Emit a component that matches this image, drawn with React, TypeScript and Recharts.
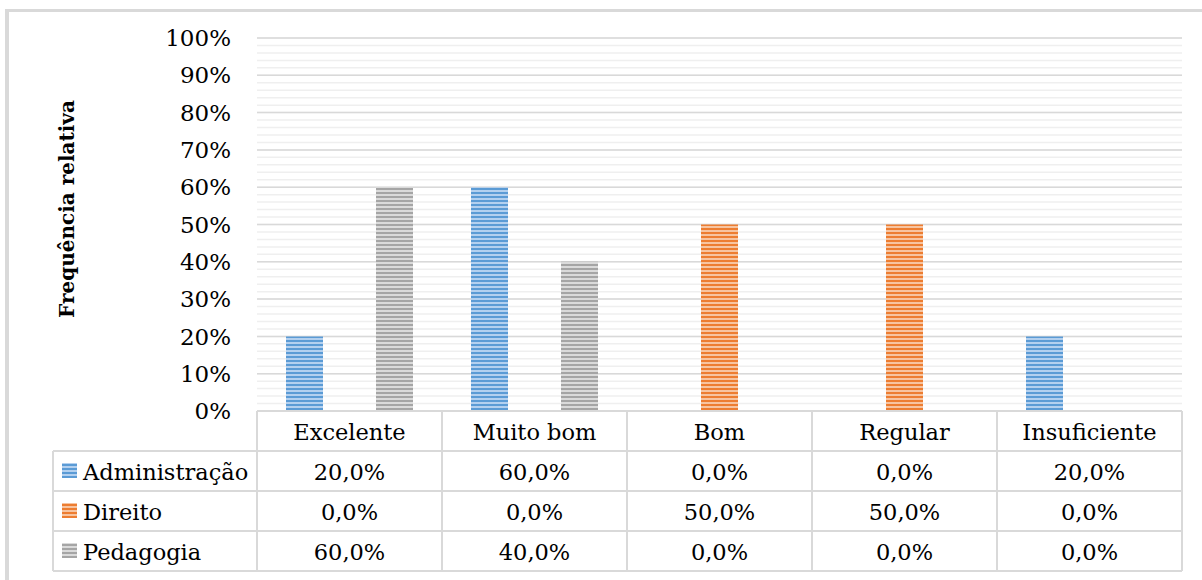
import React from 'react';
import { BarChart, Bar, XAxis, YAxis, CartesianGrid } from 'recharts';

const categories = ['Excelente', 'Muito bom', 'Bom', 'Regular', 'Insuficiente'];
const seriesNames = ['Administração', 'Direito', 'Pedagogia'];
const administracao = [0.2, 0.6, 0, 0, 0.2];
const direito = [0, 0, 0.5, 0.5, 0];
const pedagogia = [0.6, 0.4, 0, 0, 0];
const majorTicks = [0, 0.1, 0.2, 0.3, 0.4, 0.5, 0.6, 0.7, 0.8, 0.9, 1];
const minorTicks = [0, 0.02, 0.04, 0.06, 0.08, 0.1, 0.12, 0.14, 0.16, 0.18, 0.2, 0.22, 0.24, 0.26, 0.28, 0.3, 0.32, 0.34, 0.36, 0.38, 0.4, 0.42, 0.44, 0.46, 0.48, 0.5, 0.52, 0.54, 0.56, 0.58, 0.6, 0.62, 0.64, 0.66, 0.68, 0.7, 0.72, 0.74, 0.76, 0.78, 0.8, 0.82, 0.84, 0.86, 0.88, 0.9, 0.92, 0.94, 0.96, 0.98, 1];
const yTitle = 'Frequência relativa';

const seriesKeys = ['adm', 'dir', 'ped'];
const seriesValues = [administracao, direito, pedagogia];
const patternIds = ['stripeBlue', 'stripeOrange', 'stripeGray'];
const stripeColors = [
  ['#5b9bd5', '#b3d0ef'],
  ['#ed7d31', '#f7c4a0'],
  ['#a5a5a5', '#dadada'],
];

const data = categories.map((c, i) => ({
  name: c,
  adm: administracao[i],
  dir: direito[i],
  ped: pedagogia[i],
}));

const FONT = '"DejaVu Serif", serif';
const FS = 22.5;
const PLOT_LEFT = 257;
const PLOT_RIGHT = 1182;
const BAND = (PLOT_RIGHT - PLOT_LEFT) / categories.length;
const ROW_H = 40;
const LEG_LEFT = 53;
const GRID_C = '#d9d9d9';

const fmt = (v: number) => (v * 100).toFixed(1).replace('.', ',') + '%';

const TableTick = (props: any) => {
  const { x, y, payload } = props;
  const i = payload.index;
  const left = x - BAND / 2;
  const right = x + BAND / 2;
  const els: any[] = [];
  els.push(<line key="vl" x1={left} x2={left} y1={y} y2={y + ROW_H * 4} stroke={GRID_C} strokeWidth={2} />);
  els.push(<line key="vr" x1={right} x2={right} y1={y} y2={y + ROW_H * 4} stroke={GRID_C} strokeWidth={2} />);
  for (let r = 0; r <= 4; r++) {
    els.push(<line key={'h' + r} x1={left} x2={right} y1={y + r * ROW_H} y2={y + r * ROW_H} stroke={GRID_C} strokeWidth={2} />);
  }
  els.push(
    <text key="hd" x={x} y={y + ROW_H / 2 + 1} textAnchor="middle" dominantBaseline="central" fontFamily={FONT} fontSize={FS} fill="#000">
      {payload.value}
    </text>
  );
  seriesValues.forEach((vals, s) => {
    els.push(
      <text key={'v' + s} x={x} y={y + ROW_H * (s + 1) + ROW_H / 2 + 1} textAnchor="middle" dominantBaseline="central" fontFamily={FONT} fontSize={FS} fill="#000">
        {fmt(vals[i])}
      </text>
    );
  });
  if (i === 0) {
    els.push(<line key="ll" x1={LEG_LEFT} x2={LEG_LEFT} y1={y + ROW_H} y2={y + ROW_H * 4} stroke={GRID_C} strokeWidth={2} />);
    for (let r = 1; r <= 4; r++) {
      els.push(<line key={'lh' + r} x1={LEG_LEFT} x2={left} y1={y + r * ROW_H} y2={y + r * ROW_H} stroke={GRID_C} strokeWidth={2} />);
    }
    seriesNames.forEach((n, s) => {
      const cy = y + ROW_H * (s + 1) + ROW_H / 2;
      els.push(<rect key={'k' + s} x={LEG_LEFT + 9} y={cy - 8} width={15} height={15} fill={`url(#${patternIds[s]})`} />);
      els.push(
        <text key={'n' + s} x={LEG_LEFT + 30} y={cy + 1} dominantBaseline="central" fontFamily={FONT} fontSize={FS} fill="#000">
          {n}
        </text>
      );
    });
  }
  return <g>{els}</g>;
};

const YTitle = () => (
  <text x={67} y={209} transform="rotate(-90 67 209)" textAnchor="middle" dominantBaseline="central" fontFamily={FONT} fontSize={20} fontWeight="bold" fill="#000">
    {yTitle}
  </text>
);

const minorGen = (args: any) => {
  const { yAxis, offset } = args || {};
  const sc = yAxis && yAxis.scale;
  if (typeof sc === 'function') return minorTicks.map((t) => sc(t));
  if (sc && typeof sc.map === 'function') return minorTicks.map((t) => sc.map(t));
  return minorTicks.map((t) => offset.top + offset.height * (1 - t));
};

export default function App() {
  return (
    <div style={{ position: 'absolute', left: 0, top: 0, width: 1202, height: 580, background: '#fff', overflow: 'hidden' }}>
      <div style={{ position: 'absolute', left: 5, top: 9, width: 1300, height: 700, borderTop: '3px solid #d9d9d9', borderLeft: '4px solid #d9d9d9', boxSizing: 'border-box' }} />
      <div style={{ position: 'absolute', left: 0, top: 0 }}>
        <BarChart width={1202} height={580} data={data} margin={{ top: 38, right: 1202 - PLOT_RIGHT, bottom: 8, left: 0 }} barSize={37} barGap={8}>
          <defs>
            {patternIds.map((id, s) => (
              <pattern key={id} id={id} patternUnits="userSpaceOnUse" width={8} height={4}>
                <rect x={0} y={0} width={8} height={4} fill={stripeColors[s][0]} />
                <rect x={0} y={2} width={8} height={2} fill={stripeColors[s][1]} />
              </pattern>
            ))}
          </defs>
          <CartesianGrid vertical={false} stroke="#efefef" strokeWidth={1.5} horizontalCoordinatesGenerator={minorGen} />
          <CartesianGrid vertical={false} stroke={GRID_C} strokeWidth={1.5} />
          <YAxis
            width={PLOT_LEFT}
            domain={[0, 1]}
            ticks={majorTicks}
            interval={0}
            tickFormatter={(v: number) => Math.round(v * 100) + '%'}
            axisLine={false}
            tickLine={false}
            tickSize={0}
            tickMargin={26}
            tick={{ fontFamily: FONT, fontSize: 23, fill: '#000' }}
            label={{ content: () => <YTitle /> }}
          />
          <XAxis
            dataKey="name"
            height={580 - 8 - 411}
            axisLine={false}
            tickLine={false}
            tickSize={0}
            tickMargin={0}
            interval={0}
            tick={<TableTick />}
          />
          {seriesKeys.map((k, s) => (
            <Bar key={k} dataKey={k} name={seriesNames[s]} fill={`url(#${patternIds[s]})`} isAnimationActive={false} />
          ))}
        </BarChart>
      </div>
    </div>
  );
}
